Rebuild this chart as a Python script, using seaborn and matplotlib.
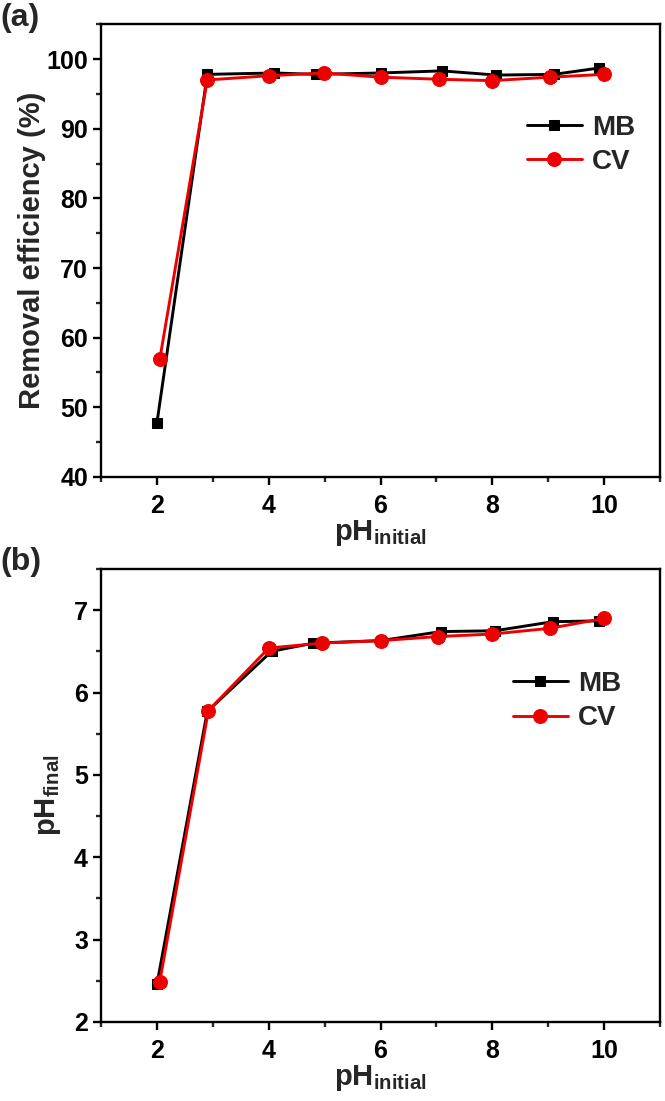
import matplotlib
matplotlib.use("Agg")
import matplotlib.pyplot as plt
import seaborn as sns
import pandas as pd
from matplotlib.ticker import MultipleLocator

# ---- data ----
mb_x_a = [2.0, 2.9, 4.1, 4.84, 6.0, 7.1, 8.07, 9.1, 9.9]
mb_y_a = [47.8, 97.8, 98.0, 97.8, 98.0, 98.3, 97.7, 97.8, 98.7]
cv_x_a = [2.05, 2.9, 4.0, 4.98, 6.0, 7.04, 8.0, 9.03, 10.0]
cv_y_a = [56.9, 97.0, 97.6, 98.0, 97.4, 97.1, 96.9, 97.4, 97.8]

mb_x_b = [2.0, 2.9, 4.05, 4.8, 6.0, 7.08, 8.05, 9.08, 9.9]
mb_y_b = [2.46, 5.77, 6.50, 6.60, 6.63, 6.74, 6.75, 6.86, 6.87]
cv_x_b = [2.05, 2.92, 4.0, 4.95, 6.0, 7.03, 8.0, 9.03, 10.0]
cv_y_b = [2.49, 5.78, 6.54, 6.60, 6.63, 6.68, 6.71, 6.78, 6.90]

x_ticks = [2, 4, 6, 8, 10]
series_names = ["MB", "CV"]

sns.set_theme(style="ticks")
plt.rcParams["font.family"] = ["Liberation Sans", "DejaVu Sans"]
plt.rcParams["font.weight"] = "bold"
plt.rcParams["mathtext.fontset"] = "custom"
plt.rcParams["mathtext.rm"] = "Liberation Sans:bold"
plt.rcParams["mathtext.bf"] = "Liberation Sans:bold"
plt.rcParams["mathtext.it"] = "Liberation Sans:bold"

fig = plt.figure(figsize=(6.65, 11.01), dpi=100)
ax1 = fig.add_axes([0.152, 0.5668, 0.8405, 0.4112])
ax2 = fig.add_axes([0.152, 0.0718, 0.8405, 0.4114])

def draw(ax, mbx, mby, cvx, cvy):
    df_mb = pd.DataFrame({"x": mbx, "y": mby})
    df_cv = pd.DataFrame({"x": cvx, "y": cvy})
    sns.lineplot(data=df_mb, x="x", y="y", ax=ax, color="black", marker="s",
                 markersize=7.5, linewidth=2.1, markeredgecolor="black",
                 label=series_names[0], sort=False)
    sns.lineplot(data=df_cv, x="x", y="y", ax=ax, color="#ee0000", marker="o",
                 markersize=10, linewidth=2.1, markeredgecolor="#ee0000",
                 label=series_names[1], sort=False)

def style(ax, legend_anchor):
    for s in ax.spines.values():
        s.set_linewidth(1.7)
        s.set_color("black")
    ax.set_xlim(1, 11)
    ax.set_xticks(x_ticks)
    ax.xaxis.set_minor_locator(MultipleLocator(1))
    ax.tick_params(which="major", direction="out", length=5.5, width=1.7,
                   labelsize=18, colors="black", top=False, right=False, pad=4)
    ax.tick_params(axis="x", which="major", pad=7)
    ax.tick_params(which="minor", direction="out", length=3.5, width=1.7,
                   top=False, right=False)
    for lab in ax.get_xticklabels() + ax.get_yticklabels():
        lab.set_fontweight("bold")
    ax.set_xlabel(r"$\mathbf{pH_{initial}}$", fontsize=21, labelpad=0)
    leg = ax.legend(frameon=False, fontsize=20, handlelength=2.0,
                    handletextpad=0.35, labelspacing=0.3,
                    loc="upper right", bbox_to_anchor=legend_anchor)
    for t in leg.get_texts():
        t.set_fontweight("bold")

draw(ax1, mb_x_a, mb_y_a, cv_x_a, cv_y_a)
ax1.set_ylim(40, 105)
ax1.set_yticks([40, 50, 60, 70, 80, 90, 100])
ax1.yaxis.set_minor_locator(MultipleLocator(5))
style(ax1, (1.0, 0.855))
ax1.set_ylabel("Removal efficiency (%)", fontsize=21, fontweight="bold", labelpad=0)

draw(ax2, mb_x_b, mb_y_b, cv_x_b, cv_y_b)
ax2.set_ylim(2, 7.5)
ax2.set_yticks([2, 3, 4, 5, 6, 7])
ax2.yaxis.set_minor_locator(MultipleLocator(0.5))
style(ax2, (0.975, 0.83))
ax2.set_ylabel(r"$\mathbf{pH_{final}}$", fontsize=21, labelpad=8)

fig.text(0.0, 0.997, "(a)", fontsize=23, fontweight="bold", va="top", ha="left")
fig.text(0.0, 0.503, "(b)", fontsize=23, fontweight="bold", va="top", ha="left")

fig.savefig("out.png", dpi=100)
